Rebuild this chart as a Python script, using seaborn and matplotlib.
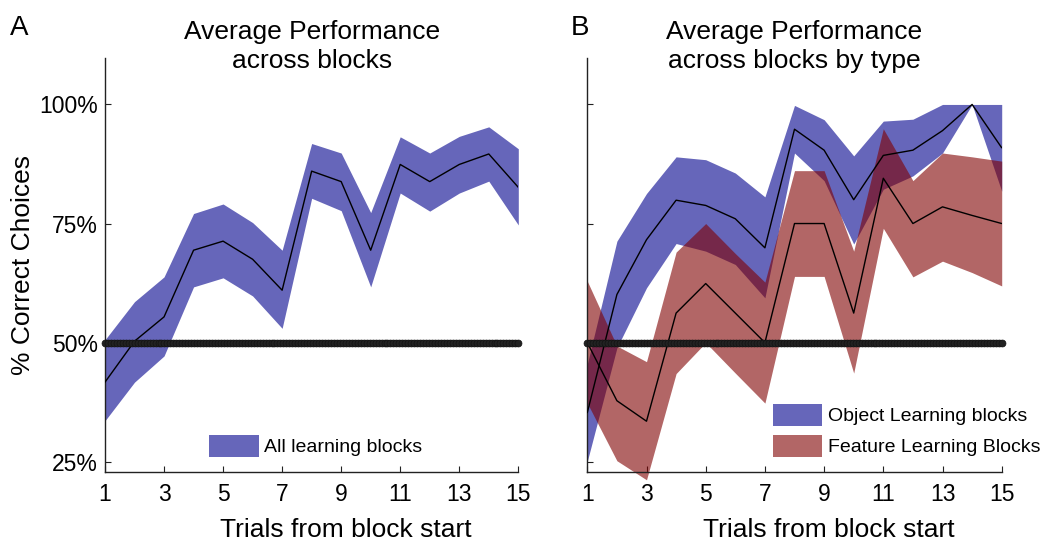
import numpy as np
import pandas as pd
import matplotlib
matplotlib.use("Agg")
import matplotlib.pyplot as plt
from matplotlib.patches import Patch
import seaborn as sns

# ---------------- data ----------------
trials = list(range(1, 16))

# Panel A: all learning blocks (% correct)
mean_all = [41.7, 50.3, 55.4, 69.4, 71.3, 67.5, 61.0, 86.0, 83.8, 69.4, 87.4, 83.8, 87.4, 89.6, 82.6]
upper_all = [50.6, 58.6, 63.8, 77.1, 79.1, 75.2, 69.4, 91.8, 89.8, 77.3, 93.2, 89.8, 93.3, 95.3, 90.7]
lower_all = [33.6, 41.7, 47.2, 61.7, 63.6, 59.8, 53.0, 80.3, 77.7, 61.7, 81.4, 77.6, 81.4, 83.9, 74.7]

# Panel B: object learning blocks
mean_obj = [35.3, 60.1, 71.6, 79.9, 78.8, 76.0, 69.9, 94.8, 90.4, 80.0, 89.3, 90.4, 94.5, 100.0, 90.9]
upper_obj = [45.5, 71.3, 81.3, 89.0, 88.4, 85.6, 80.6, 99.8, 96.8, 89.2, 96.5, 96.9, 100.0, 100.0, 100.0]
lower_obj = [25.1, 48.9, 61.5, 70.8, 69.2, 66.4, 59.4, 89.8, 84.0, 70.7, 82.2, 85.0, 89.8, 100.0, 81.8]

# Panel B: feature learning blocks
mean_feat = [50.0, 37.8, 33.5, 56.2, 62.4, 56.2, 50.0, 75.0, 75.0, 56.2, 84.5, 75.0, 78.5, 76.7, 75.0]
upper_feat = [62.9, 49.3, 46.0, 69.0, 75.0, 68.7, 62.7, 86.1, 86.1, 69.2, 94.9, 84.0, 89.8, 89.0, 88.1]
lower_feat = [37.3, 25.2, 21.2, 43.5, 50.0, 43.6, 37.3, 63.9, 63.9, 43.6, 74.0, 63.8, 67.1, 64.7, 61.9]

chance = 50.0
y_ticks = [25, 50, 75, 100]
y_tick_labels = ["25%", "50%", "75%", "100%"]
x_ticks = [1, 3, 5, 7, 9, 11, 13, 15]

label_all = "All learning blocks"
label_obj = "Object Learning blocks"
label_feat = "Feature Learning Blocks"

# ---------------- style ----------------
sns.set_style("ticks")
plt.rcParams["font.family"] = ["Liberation Sans", "DejaVu Sans"]
plt.rcParams["text.color"] = "black"
plt.rcParams["axes.labelcolor"] = "black"

BLUE = (0.0, 0.0, 0.55)
RED = (0.5, 0.0, 0.0)
ALPHA = 0.6

fig = plt.figure(figsize=(10.47, 5.46), dpi=100)
axA = fig.add_axes([0.10029, 0.13608, 0.39475, 0.75769])
axB = fig.add_axes([0.56094, 0.13608, 0.39580, 0.75769])


def draw_band(ax, lo, hi, color):
    ax.fill_between(trials, lo, hi, color=color, alpha=ALPHA, lw=0, clip_on=False, zorder=1)


def draw_mean(ax, mean):
    df = pd.DataFrame({"trial": trials, "pct": mean})
    sns.lineplot(data=df, x="trial", y="pct", color="black", lw=1.0, ax=ax,
                 legend=False, zorder=3)


def draw_chance(ax):
    xs = np.linspace(trials[0], trials[-1], 140)
    ax.plot(xs, np.full_like(xs, chance), color="black", lw=2.5, marker="o", ms=5,
            mfc="#222222", mec="#111111", mew=0.5, clip_on=False, zorder=4)


def style_axes(ax, show_ylabels):
    ax.set_xlim(1, 15)
    ax.set_ylim(22.9, 109.75)
    ax.set_xticks(x_ticks)
    ax.set_xticklabels([str(t) for t in x_ticks])
    ax.set_yticks(y_ticks)
    if show_ylabels:
        ax.set_yticklabels(y_tick_labels)
    else:
        ax.set_yticklabels([])
    sns.despine(ax=ax)
    for s in ["left", "bottom"]:
        ax.spines[s].set_linewidth(1.0)
        ax.spines[s].set_color("#222222")
    ax.tick_params(axis="both", direction="in", length=4, width=0.8, color="#222222",
                   labelsize=16.5, labelcolor="black")
    ax.tick_params(axis="y", pad=5)
    ax.tick_params(axis="x", pad=8)
    ax.set_xlabel("Trials from block start", fontsize=19, color="black")
    ax.xaxis.set_label_coords(0.583, -0.112)
    ax.set_ylabel("")


# Panel A
draw_band(axA, lower_all, upper_all, BLUE)
draw_mean(axA, mean_all)
draw_chance(axA)
style_axes(axA, True)
axA.set_ylabel("% Correct Choices", fontsize=19, labelpad=3, color="black")
axA.set_title("Average Performance\nacross blocks", fontsize=19, y=0.976, pad=0,
              linespacing=1.25, color="black")
axA.legend(handles=[Patch(facecolor=BLUE, alpha=ALPHA, lw=0, label=label_all)],
           loc="lower left", bbox_to_anchor=(0.2516, 0.035), frameon=False,
           fontsize=14, handlelength=2.55, handleheight=1.4, handletextpad=0.3,
           borderpad=0, borderaxespad=0)

# Panel B
draw_band(axB, lower_obj, upper_obj, BLUE)
draw_band(axB, lower_feat, upper_feat, RED)
draw_mean(axB, mean_obj)
draw_mean(axB, mean_feat)
draw_chance(axB)
style_axes(axB, False)
axB.set_title("Average Performance\nacross blocks by type", fontsize=19, y=0.976, pad=0,
              linespacing=1.25, color="black")
axB.legend(handles=[Patch(facecolor=BLUE, alpha=ALPHA, lw=0, label=label_obj),
                    Patch(facecolor=RED, alpha=ALPHA, lw=0, label=label_feat)],
           loc="lower left", bbox_to_anchor=(0.447, 0.035), frameon=False,
           fontsize=14, handlelength=2.55, handleheight=1.4, handletextpad=0.3,
           labelspacing=0.45, borderpad=0, borderaxespad=0)

fig.text(10 / 1047, 1 - 35 / 546, "A", fontsize=20, va="baseline", ha="left", color="black")
fig.text(571 / 1047, 1 - 35 / 546, "B", fontsize=20, va="baseline", ha="left", color="black")

fig.savefig("out.png", dpi=100)
